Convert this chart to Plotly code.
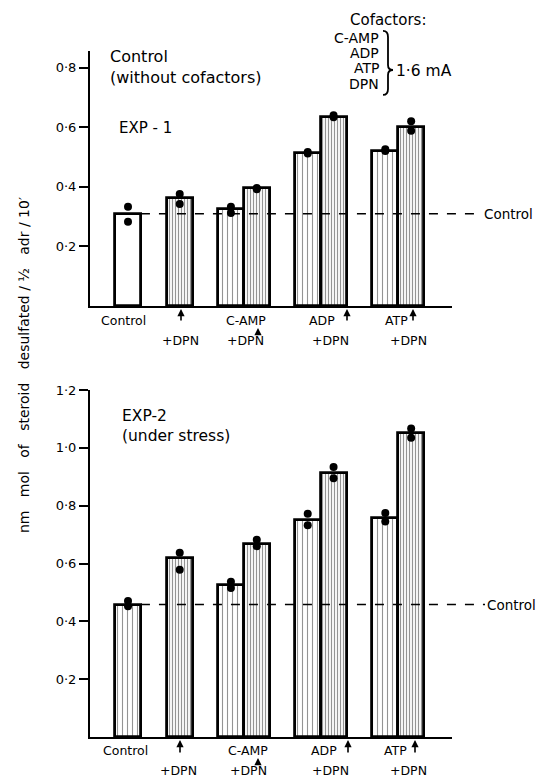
import plotly.graph_objects as go

# ---------------- data ----------------
bar_labels = ["Control", "+DPN", "C-AMP", "C-AMP+DPN", "ADP", "ADP+DPN", "ATP", "ATP+DPN"]

exp1_means = [0.31, 0.362, 0.324, 0.396, 0.514, 0.636, 0.522, 0.602]
exp1_reps = [[0.333, 0.283], [0.376, 0.342], [0.333, 0.312], [0.396, 0.392],
             [0.517, 0.512], [0.640, 0.634], [0.526, 0.520], [0.620, 0.588]]

exp2_means = [0.458, 0.618, 0.524, 0.668, 0.752, 0.913, 0.756, 1.052]
exp2_reps = [[0.470, 0.452], [0.637, 0.578], [0.537, 0.515], [0.682, 0.660],
             [0.772, 0.732], [0.934, 0.895], [0.775, 0.745], [1.067, 1.035]]

exp1_ticks = [0.2, 0.4, 0.6, 0.8]
exp2_ticks = [0.2, 0.4, 0.6, 0.8, 1.0, 1.2]
tick_text1 = ["0·2", "0·4", "0·6", "0·8"]
tick_text2 = ["0·2", "0·4", "0·6", "0·8", "1·0", "1·2"]

# ---------------- layout constants ----------------
W, H = 542, 778
ML, MR, MT, MB = 90, 90, 51, 41
PW, PH = W - ML - MR, H - MT - MB
pos = [1.47, 3.47, 5.45, 6.45, 8.42, 9.42, 11.42, 12.42]
FONT = "DejaVu Sans"

def px(xp):
    return (xp - ML) / PW

def py(yp):
    return (H - MB - yp) / PH

top_shapes = ["", "|", "|", "|", "|", "|", "|", "|"]
top_sizes = [4, 3, 5, 3, 5, 3, 5, 3]
top_sol = [0.0, 0.4, 0.22, 0.4, 0.22, 0.4, 0.22, 0.4]
bot_shapes = ["|"] * 8
bot_sizes = [5, 3, 5, 3, 5, 3, 5, 3]
bot_sol = [0.22, 0.4, 0.22, 0.4, 0.22, 0.4, 0.22, 0.4]

fig = go.Figure()

def add_panel(means, reps, xa, ya, shapes, sizes, sol):
    fig.add_trace(go.Bar(
        x=pos, y=means, width=1.0, xaxis=xa, yaxis=ya,
        marker=dict(color="white",
                    line=dict(color="black", width=2.8),
                    pattern=dict(shape=shapes, size=sizes, solidity=sol,
                                 fgcolor="#2a2a2a", bgcolor="white")),
        hoverinfo="skip", showlegend=False))
    xs, ys = [], []
    for p, r in zip(pos, reps):
        xs += [p] * len(r)
        ys += r
    fig.add_trace(go.Scatter(
        x=xs, y=ys, mode="markers", xaxis=xa, yaxis=ya, cliponaxis=False,
        marker=dict(color="black", size=8), hoverinfo="skip", showlegend=False))

add_panel(exp1_means, exp1_reps, "x", "y", top_shapes, top_sizes, top_sol)
add_panel(exp2_means, exp2_reps, "x2", "y2", bot_shapes, bot_sizes, bot_sol)

axis_common = dict(showgrid=False, zeroline=False, showline=True, linecolor="black",
                   linewidth=2)
fig.update_layout(
    width=W, height=H, margin=dict(l=ML, r=MR, t=MT, b=MB),
    plot_bgcolor="white", paper_bgcolor="white",
    font=dict(family=FONT, color="black", size=12),
    bargap=0,
    xaxis=dict(domain=[0, 1], range=[0, 14], anchor="y", showticklabels=False,
               ticks="", **axis_common),
    yaxis=dict(domain=[py(306), 1], range=[0, 0.856], anchor="x",
               tickvals=exp1_ticks, ticktext=tick_text1, ticks="outside",
               ticklen=9, tickwidth=2, tickcolor="black",
               tickfont=dict(size=13, family=FONT), **axis_common),
    xaxis2=dict(domain=[0, 1], range=[0, 14], anchor="y2", showticklabels=False,
                ticks="", **axis_common),
    yaxis2=dict(domain=[0, py(390)], range=[0, 1.2], anchor="x2",
                tickvals=exp2_ticks, ticktext=tick_text2, ticks="outside",
                ticklen=9, tickwidth=2, tickcolor="black",
                tickfont=dict(size=13, family=FONT), **axis_common),
)

shapes = []
# dashed control lines (value from the control mean of each experiment)
shapes.append(dict(type="line", xref="x domain", yref="y", x0=(pos[0] + 0.5) / 14,
                   x1=px(482), y0=exp1_means[0], y1=exp1_means[0], layer="above",
                   line=dict(color="black", width=1.5, dash="dash")))
shapes.append(dict(type="line", xref="x2 domain", yref="y2", x0=(pos[0] + 0.5) / 14,
                   x1=px(485), y0=exp2_means[0], y1=exp2_means[0], layer="above",
                   line=dict(color="black", width=1.5, dash="dash")))

# brace for cofactors
bx0, bx1, btip = 383, 388, 393
yt, ym, yb = 31, 70, 95
def P(x, y):
    return f"{px(x):.4f},{py(y):.4f}"
brace = (f"M {P(bx0, yt)} Q {P(bx1, yt)} {P(bx1, yt + 6)} L {P(bx1, ym - 5)} "
         f"Q {P(bx1, ym)} {P(btip, ym)} Q {P(bx1, ym)} {P(bx1, ym + 5)} "
         f"L {P(bx1, yb - 6)} Q {P(bx1, yb)} {P(bx0, yb)}")
shapes.append(dict(type="path", xref="paper", yref="paper", path=brace,
                   line=dict(color="black", width=1.8)))

ann = []
def A(text, x, y, xanchor="center", yanchor="middle", size=13, xref="paper",
      yref="paper", align="left", angle=0):
    ann.append(dict(text=text, x=x, y=y, xref=xref, yref=yref, xanchor=xanchor,
                    yanchor=yanchor, showarrow=False, align=align, textangle=angle,
                    font=dict(size=size, family=FONT, color="black")))

def arrow(xp, y_head, length=11):
    # small upward arrow, head at y_head (pixels from top)
    ann.append(dict(text="", x=px(xp), y=py(y_head), xref="paper", yref="paper",
                    showarrow=True, ax=0, ay=length, arrowhead=2, arrowsize=0.9,
                    arrowwidth=1.6, arrowcolor="black", standoff=0, startstandoff=0))

# panel texts
A("Control<br>(without cofactors)", px(108), py(45), xanchor="left", yanchor="top", size=16)
A("EXP - 1", px(117), py(128), xanchor="left", size=15)
A("EXP-2<br>(under stress)", px(120), py(405), xanchor="left", yanchor="top", size=15.5)
A("Control", px(482), exp1_means[0], xanchor="left", xref="paper", yref="y", size=13.5)
A("Control", px(485), exp2_means[0], xanchor="left", xref="paper", yref="y2", size=13.5)

# cofactors block
A("Cofactors:", px(388), py(20), size=15)
for t, yy in zip(["C-AMP", "ADP", "ATP", "DPN"], [38, 53, 68, 84]):
    A(t, px(381), py(yy), xanchor="right", size=14)
A("1·6 mA", px(394), py(71), xanchor="left", size=15.5)

# y axis title
A("nm   mol   of   steroid   desulfated / ½   adr / 10′", px(24), py(365), size=14,
  angle=-90)

# category labels under each panel
def cat_labels(yrow, ydpn, cs, arrows):
    A("Control", px(cs[0]), py(yrow), size=12.5)
    A("+DPN", px(cs[1]), py(ydpn), size=12.5)
    A("C-AMP", px(cs[2]), py(yrow), size=12.5)
    A("+DPN", px(cs[3]), py(ydpn), size=12.5)
    A("ADP", px(cs[4]), py(yrow), size=12.5)
    A("+DPN", px(cs[5]), py(ydpn), size=12.5)
    A("ATP", px(cs[6]), py(yrow), size=12.5)
    A("+DPN", px(cs[7]), py(ydpn), size=12.5)
    for xa, yh, ln in arrows:
        arrow(xa, yh, ln)

cat_labels(320, 340, [123, 180, 246, 245, 322, 330, 396, 408],
           [(181, 309, 13), (258, 328, 5), (347, 309, 13), (413, 309, 13)])
cat_labels(750, 771, [125, 178, 248, 248, 324, 330, 395, 408],
           [(180, 740, 14), (258, 758, 6), (348, 740, 14), (415, 740, 14)])

fig.update_layout(shapes=shapes, annotations=ann)
fig.write_html("out.html")
